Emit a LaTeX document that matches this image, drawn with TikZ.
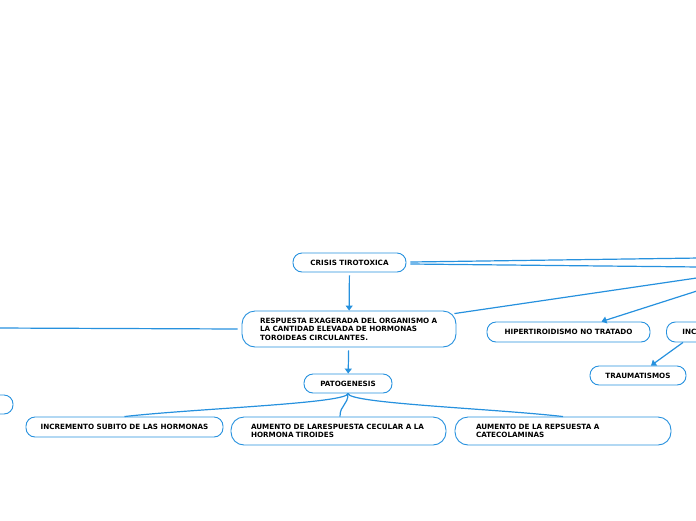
\documentclass[tikz,border=0pt]{standalone}
\usepackage{fontspec}
\setmainfont{DejaVu Sans}
\usetikzlibrary{arrows.meta,positioning}

\definecolor{mapblue}{RGB}{38,145,222}

\tikzset{
  topic/.style={draw=mapblue, line width=0.9pt, rounded corners=9pt,
    minimum height=19pt, inner sep=0pt,
    font=\bfseries\fontsize{7.2}{8.6}\selectfont},
  bigtopic/.style={topic, rounded corners=13pt, align=left},
  link/.style={draw=mapblue, line width=1.2pt},
  arr/.style={link, -{Triangle[length=5pt,width=7pt]}}
}

\begin{document}
\begin{tikzpicture}[x=1pt, y=-1pt]
    % Fix the page to the size of the map
    \path[use as bounding box, clip] (0,0) rectangle (696,520);

    % Main topic and its explanation
    \node[topic, minimum width=113pt] (crisis) at (349.5,262.5) {CRISIS TIROTOXICA};
    \node[bigtopic, minimum height=36pt, inner xsep=18pt, text width=178pt] (resp) at (349,329)
        {\mbox{RESPUESTA EXAGERADA DEL ORGANISMO A}\\LA CANTIDAD ELEVADA DE HORMONAS\\TOROIDEAS CIRCULANTES.};
    \node[topic, minimum width=88pt] (pato) at (348,383.5) {PATOGENESIS};

    % Causes on the right
    \node[topic, minimum width=163pt, minimum height=20pt] (hiper) at (568.5,332) {HIPERTIROIDISMO NO TRATADO};
    \node[topic, minimum height=20pt, anchor=west, inner xsep=16pt, text width=100pt, align=left] (incm) at (666,332) {INC};
    \node[topic, minimum width=96pt] (trauma) at (638,375.5) {TRAUMATISMOS};

    % Node cut off on the left
    \node[topic, minimum width=106pt] (lost) at (-40,404.5) {};

    % Mechanisms under patogenesis
    \node[topic, minimum width=197pt, minimum height=20pt] (incr) at (124.5,427) {INCREMENTO SUBITO DE LAS HORMONAS};
    \node[bigtopic, minimum height=28pt, inner xsep=20pt, text width=175pt] (cel) at (338.5,431)
        {\mbox{AUMENTO DE LARESPUESTA CECULAR A LA}\\HORMONA TIROIDES};
    \node[bigtopic, minimum height=28pt, inner xsep=21pt, text width=174pt] (cate) at (563,431)
        {AUMENTO DE LA REPSUESTA A\\CATECOLAMINAS};

    % Free ends of the links that leave the page
    \coordinate (outA) at (700,258);
    \coordinate (outB) at (700,267);
    \coordinate (outC) at (700,277.5);
    \coordinate (outD) at (700,290);
    \coordinate (outE) at (-4,328);

    % Links
    \draw[arr, shorten <=3pt] (crisis) -- (resp);
    \draw[arr, shorten <=3pt] (resp) -- (pato);
    \draw[link] ([xshift=4pt,yshift=0.5pt]crisis.east) -- (outA);
    \draw[link] ([xshift=4pt,yshift=-1.5pt]crisis.east) -- (outB);
    \draw[link] ([xshift=-2pt,yshift=-3pt]resp.north east) -- (outC);
    \draw[arr] (outD) -- ([xshift=33pt]hiper.north);
    \draw[arr] ([xshift=17pt]incm.south west) -- ([xshift=13pt]trauma.north);
    \draw[link] ([xshift=-4pt]resp.west) -- (outE);

    % Branches of patogenesis
    \draw[link] (pato.south) .. controls +(0,10) and +(70,-8) .. (incr.north);
    \draw[link] (pato.south) .. controls +(0,12) and +(0,-12) .. ([xshift=1.5pt]cel.north);
    \draw[link] (pato.south) .. controls +(0,10) and +(-70,-8) .. (cate.north);
\end{tikzpicture}
\end{document}
